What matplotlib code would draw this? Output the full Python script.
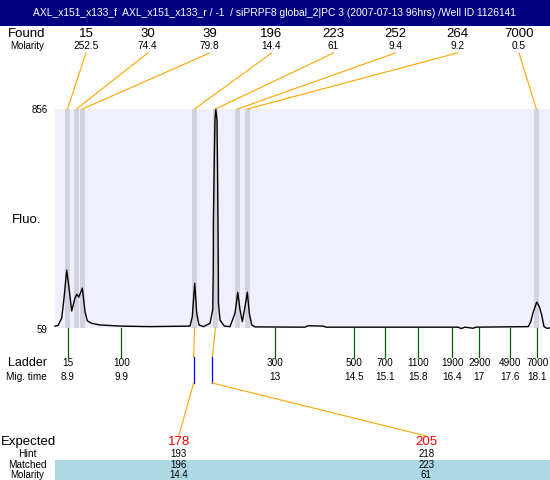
import matplotlib
matplotlib.use("Agg")
import matplotlib.pyplot as plt
from matplotlib.transforms import blended_transform_factory
from matplotlib.patches import Rectangle

plt.rcParams['font.family'] = ['Liberation Sans', 'DejaVu Sans']

# ---------------- data ----------------
title = "AXL_x151_x133_f  AXL_x151_x133_r / -1  / siPRPF8 global_2|PC 3 (2007-07-13 96hrs) /Well ID 1126141"

trace_time = [8.651, 8.710, 8.782, 8.828, 8.880, 8.925, 8.978, 9.043, 9.076, 9.116,
              9.186, 9.239, 9.284, 9.370, 9.533, 9.925, 10.513, 11.296, 11.341, 11.388,
              11.427, 11.472, 11.561, 11.688, 11.741, 11.752, 11.755, 11.773, 11.786, 11.800,
              11.825, 11.839, 11.851, 11.853, 11.884, 11.968, 12.080, 12.178, 12.231, 12.276,
              12.321, 12.374, 12.419, 12.458, 12.505, 12.570, 13.549, 13.600, 13.647, 13.902,
              13.961, 16.547, 16.606, 16.684, 16.841, 16.900, 17.924, 17.971, 18.022, 18.089,
              18.140, 18.187, 18.232, 18.285, 18.349]
trace_fluo = [66, 68, 95, 168, 270, 205, 121, 168, 182, 171,
              204, 118, 85, 76, 70, 66, 64, 66, 100, 222,
              113, 70, 64, 76, 125, 270, 452, 689, 816, 856,
              816, 569, 270, 150, 88, 66, 64, 113, 189, 125,
              82, 137, 189, 113, 70, 63, 62, 67, 67, 66,
              62, 62, 57, 62, 58, 62, 64, 82, 118, 153,
              137, 106, 64, 58, 59]
y_min, y_max = 59, 856

found_size = ["15", "30", "39", "196", "223", "252", "264", "7000"]
found_molarity = ["252.5", "74.4", "79.8", "14.4", "61", "9.4", "9.2", "0.5"]
found_time = [8.896, 9.073, 9.190, 11.386, 11.794, 12.225, 12.421, 18.081]

ladder_size = ["15", "100", "300", "500", "700", "1100", "1900", "2900", "4900", "7000"]
ladder_mig_label = ["8.9", "9.9", "13", "14.5", "15.1", "15.8", "16.4", "17", "17.6", "18.1"]
ladder_time = [8.900, 9.950, 12.967, 14.515, 15.122, 15.769, 16.435, 16.964, 17.572, 18.101]

expected = ["178", "205"]
hint = ["193", "218"]
matched = ["196", "223"]
matched_molarity = ["14.4", "61"]
matched_index = [3, 4]
hint_time = [11.367, 11.733]

# ---------------- layout ----------------
W, H = 550, 480
fig = plt.figure(figsize=(5.5, 4.8), dpi=100)
PL, PR, PT, PB = 55, 550, 109, 328
ax = fig.add_axes([PL / W, 1 - PB / H, (PR - PL) / W, (PB - PT) / H])
ax.set_xlim(8.651, 18.349)
ax.set_ylim(y_min, y_max)
ax.set_facecolor('#EFEFFD')
for s in ax.spines.values():
    s.set_visible(False)
ax.set_xticks([])
ax.set_yticks([])

band_w = 0.098
for t in found_time:
    ax.axvspan(t - band_w / 2, t + band_w / 2, color='#D3D3E0', lw=0, zorder=1)
ax.plot(trace_time, trace_fluo, color='black', lw=1.0, zorder=3, clip_on=False)

ov = fig.add_axes([0, 0, 1, 1], zorder=5)
ov.set_xlim(0, W)
ov.set_ylim(H, 0)
ov.axis('off')
bt = blended_transform_factory(ax.transData, ov.transData)

# title bar
ov.add_patch(Rectangle((0, 0), W, 26, color='#000080', lw=0))
ov.text(274, 13, title, color='white', fontsize=7.4, ha='center', va='center')

# found row
ov.text(8, 34, "Found", fontsize=9.5, ha='left', va='center')
ov.text(10, 46, "Molarity", fontsize=7, ha='left', va='center')
n = len(found_size)
slot = (PR - PL) / n
for i, (sz, mol, t) in enumerate(zip(found_size, found_molarity, found_time)):
    xs = PL + (i + 0.5) * slot
    ov.text(xs, 34, sz, fontsize=9.5, ha='center', va='center')
    ov.text(xs, 46, mol, fontsize=7.3, ha='center', va='center')
    xb = ov.transData.inverted().transform(ax.transData.transform((t, y_max)))[0]
    ov.plot([xs, xb], [53, PT], color='#FFA500', lw=0.8)

# y labels
ov.text(48, PT + 1, str(y_max), fontsize=7, ha='right', va='center')
ov.text(47, PB + 2, str(y_min), fontsize=7, ha='right', va='center')
ov.text(12, 220, "Fluo.", fontsize=9.5, ha='left', va='center')

# ladder
ov.text(47, 363, "Ladder", fontsize=9, ha='right', va='center')
ov.text(47, 377, "Mig. time", fontsize=7.2, ha='right', va='center')
for lab, mig, t in zip(ladder_size, ladder_mig_label, ladder_time):
    ov.plot([t, t], [PB, 357], color='#006400', lw=0.9, transform=bt)
    ov.text(t, 363, lab, fontsize=7.2, ha='center', va='center', transform=bt)
    ov.text(t, 377, mig, fontsize=7.2, ha='center', va='center', transform=bt)

# expected table
ov.add_patch(Rectangle((PL, 460), PR - PL, H - 460, color='#ADD8E6', lw=0))
ov.text(1, 442, "Expected", fontsize=9.5, ha='left', va='center')
ov.text(27, 454, "Hint", fontsize=7.5, ha='center', va='center')
ov.text(27, 465, "Matched", fontsize=7.2, ha='center', va='center')
ov.text(27, 474.5, "Molarity", fontsize=7, ha='center', va='center')
m = len(expected)
eslot = (PR - PL) / m
for j in range(m):
    xs = PL + (j + 0.5) * eslot
    ov.text(xs, 442, expected[j], fontsize=9.5, color='#FF0000', ha='center', va='center')
    ov.text(xs, 454, hint[j], fontsize=7, ha='center', va='center')
    ov.text(xs, 465, matched[j], fontsize=7, ha='center', va='center')
    ov.text(xs, 474.5, matched_molarity[j], fontsize=7, ha='center', va='center')
    tf = found_time[matched_index[j]]
    th = hint_time[j]
    xf = ov.transData.inverted().transform(ax.transData.transform((tf, y_min)))[0]
    xh = ov.transData.inverted().transform(ax.transData.transform((th, y_min)))[0]
    ov.plot([xf, xh], [PB, 357], color='#FFA500', lw=0.8)
    ov.plot([xh, xh], [357, 383], color='#0000FF', lw=0.9)
    ov.plot([xh, xs], [383, 436], color='#FFA500', lw=0.8)

fig.savefig("out.png", dpi=100)
